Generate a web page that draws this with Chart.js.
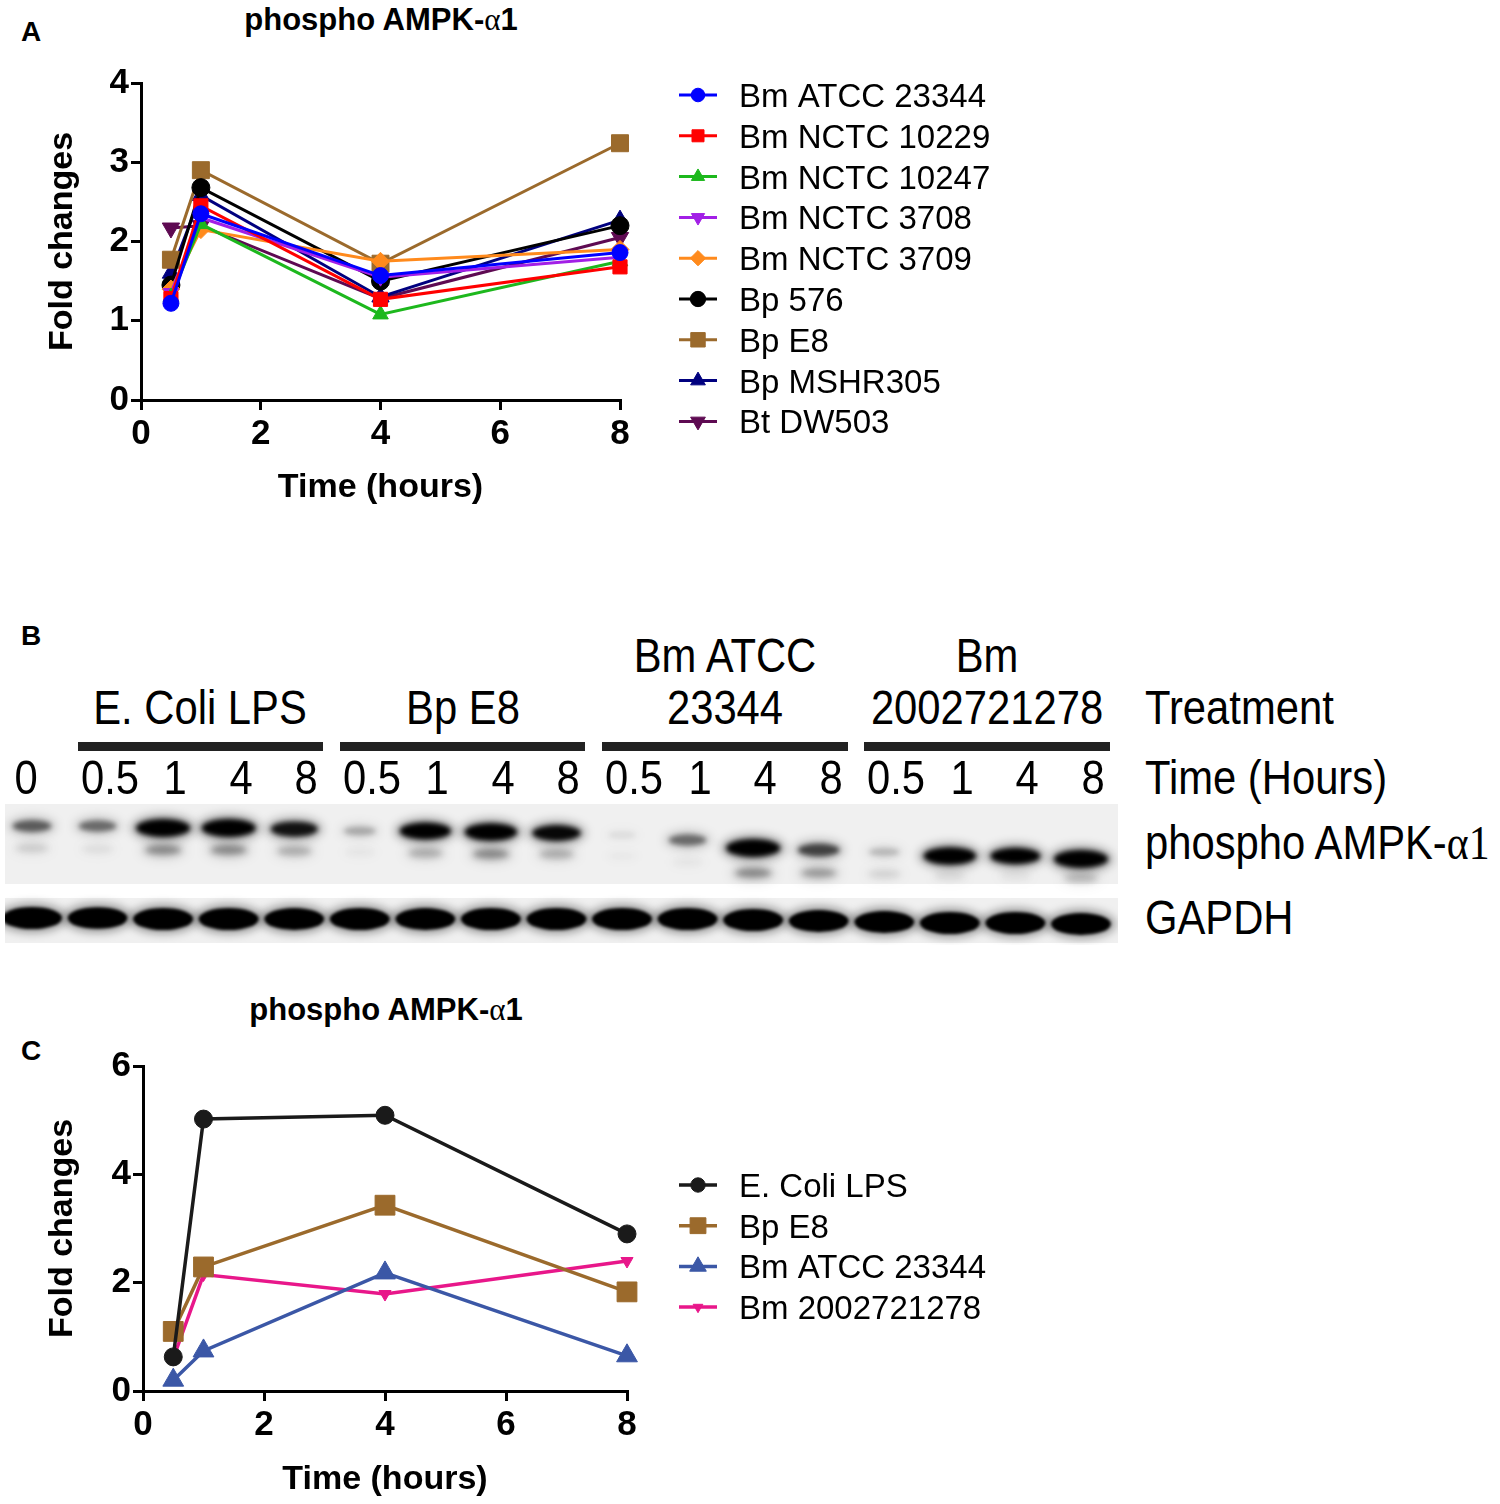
<!DOCTYPE html>
<html>
<head>
<meta charset="utf-8">
<script src="https://cdn.jsdelivr.net/npm/chart.js@4.4.1/dist/chart.umd.min.js"></script>
<style>
body { margin: 0; background: #fff; font-family: "Liberation Sans", Arial, sans-serif; }
#page { position: relative; width: 1500px; height: 1504px; overflow: hidden; background: #fff; }
canvas { position: absolute; }
.txt { position: absolute; white-space: nowrap; line-height: 1; color: #000; }
.panel { font-size: 28px; font-weight: bold; left: 21px; }
.title { font-size: 31px; font-weight: bold; transform: translateX(-50%); }
.serif { font-family: "Liberation Serif", "DejaVu Serif", serif; font-weight: normal; }
.gel { font-size: 48px; }
.gel.c { transform: translateX(-50%) scaleX(0.87); }
.gel.l { transform-origin: left top; transform: scaleX(0.87); }
.bar { position: absolute; background: #222; height: 9px; top: 742px; }
</style>
</head>
<body>
<div id="page">
  <div class="txt panel" style="top:18px">A</div>
  <div class="txt panel" style="top:622px">B</div>
  <div class="txt panel" style="top:1037px">C</div>
  <div class="txt title" style="left:381px; top:4px">phospho AMPK-<span class="serif">α</span>1</div>
  <div class="txt title" style="left:386px; top:994px">phospho AMPK-<span class="serif">α</span>1</div>

  <canvas id="chartA" width="1000" height="460" style="left:0; top:60px"></canvas>
  <canvas id="blot" width="1120" height="145" style="left:0; top:800px"></canvas>
  <canvas id="chartC" width="1000" height="464" style="left:0; top:1040px"></canvas>

  <div class="txt gel l" style="left:1145px; top:684px">Treatment</div>
  <div class="txt gel l" style="left:1145px; top:754px">Time (Hours)</div>
  <div class="txt gel l" style="left:1145px; top:819px">phospho AMPK-<span class="serif">α1</span></div>
  <div class="txt gel l" style="left:1145px; top:894px">GAPDH</div>
</div>

<script>
// ---- panel A: time course, nine strains ----
var timesA = [0.5, 1, 4, 8];
var bmAtcc23344 = [1.22, 2.35, 1.57, 1.86];
var bmNctc10229 = [1.28, 2.45, 1.27, 1.68];
var bmNctc10247 = [1.30, 2.22, 1.08, 1.75];
var bmNctc3708  = [1.35, 2.30, 1.55, 1.80];
var bmNctc3709  = [1.40, 2.15, 1.75, 1.90];
var bp576       = [1.45, 2.68, 1.50, 2.20];
var bpE8        = [1.77, 2.90, 1.72, 3.24];
var bpMshr305   = [1.60, 2.58, 1.30, 2.27];
var btDw503     = [2.17, 2.20, 1.28, 2.05];

// ---- panel C: quantified blot ----
var timesC = [0.5, 1, 4, 8];
var ecoliLps     = [0.63, 5.02, 5.09, 2.90];
var bpE8C        = [1.10, 2.29, 3.43, 1.83];
var bmAtccC      = [0.20, 0.74, 2.18, 0.65];
var bm2002721278 = [0.60, 2.15, 1.79, 2.40];

// ---- panel B: western blot lanes ----
var laneTimes = ['0', '0.5', '1', '4', '8', '0.5', '1', '4', '8', '0.5', '1', '4', '8', '0.5', '1', '4', '8'];
var groupNames = [['E. Coli LPS'], ['Bp E8'], ['Bm ATCC', '23344'], ['Bm', '2002721278']];
var groupFirstLane = [1, 5, 9, 13];
var groupLastLane = [4, 8, 12, 16];
// band strength 0..1 and migration (px down the strip)
var upperLevel = [0.45, 0.4, 1.0, 1.0, 0.75, 0.2, 0.9, 0.95, 0.8, 0.05, 0.4, 1.0, 0.55, 0.15, 0.95, 0.85, 1.0];
var upperMig   = [26, 26, 28, 28, 29, 31, 31, 32, 33, 35, 40, 48, 50, 52, 56, 56, 59];
var lowerLevel = [0.1, 0.05, 0.3, 0.3, 0.2, 0.03, 0.2, 0.3, 0.2, 0.02, 0.03, 0.3, 0.25, 0.08, 0.06, 0.04, 0.15];
var lowerMig   = [48, 49, 50, 50, 51, 52, 53, 54, 54, 56, 62, 73, 73, 74, 76, 76, 78];
var gapdhLevel = [1, 0.9, 1, 1, 0.95, 1, 0.95, 1, 1, 1, 1, 1, 0.95, 0.95, 1, 1, 0.95];
var gapdhMig   = [118, 118, 119, 119, 119, 119, 119, 119, 119, 119, 119, 120, 121, 122, 123, 123, 124];

Chart.defaults.font.family = '"Liberation Sans", Arial, sans-serif';
Chart.defaults.color = '#000';

function series(label, xs, ys, color, style, radius, rotation, width) {
    return {
        label: label,
        data: xs.map(function (t, i) { return { x: t, y: ys[i] }; }),
        borderColor: color,
        backgroundColor: color,
        pointBackgroundColor: color,
        pointBorderColor: color,
        pointBorderWidth: 1,
        pointStyle: style,
        pointRadius: radius,
        pointHoverRadius: radius,
        pointRotation: rotation || 0,
        borderWidth: width,
        tension: 0,
        clip: false
    };
}

// legend with a short line and the marker, like the original figure
var lineLegend = {
    id: 'lineLegend',
    afterDraw: function (chart, args, opts) {
        var ctx = chart.ctx;
        var area = chart.chartArea;
        ctx.save();
        chart.data.datasets.forEach(function (ds, i) {
            var y = area.top + opts.top + i * opts.rowHeight;
            var x0 = area.right + opts.offset;
            ctx.strokeStyle = ds.borderColor;
            ctx.lineWidth = ds.borderWidth;
            ctx.beginPath();
            ctx.moveTo(x0, y);
            ctx.lineTo(x0 + 38, y);
            ctx.stroke();
            ctx.fillStyle = ds.pointBackgroundColor;
            ctx.lineWidth = 1;
            Chart.helpers.drawPoint(ctx, {
                pointStyle: ds.pointStyle,
                radius: opts.markerScale * ds.pointRadius,
                rotation: ds.pointRotation,
                borderWidth: 1
            }, x0 + 19, y);
            ctx.fillStyle = '#000';
            ctx.font = '33px "Liberation Sans", Arial, sans-serif';
            ctx.textBaseline = 'alphabetic';
            ctx.fillText(ds.label, x0 + 60, y + 12);
        });
        ctx.restore();
    }
};

function axes(yMax, yStep, yWidth, xHeight, xTitlePad) {
    var line = { color: '#000', width: 3 };
    var grid = { drawOnChartArea: false, drawTicks: true, tickLength: 10, color: '#000', lineWidth: 3 };
    return {
        x: {
            type: 'linear', min: 0, max: 8,
            border: line, grid: grid,
            ticks: { stepSize: 2, autoSkip: false, maxRotation: 0, padding: 3, font: { size: 35, weight: 'bold' } },
            title: { display: true, text: 'Time (hours)', font: { size: 34, weight: 'bold' }, padding: { top: 0, bottom: xTitlePad } },
            afterFit: function (s) { s.height = xHeight; }
        },
        y: {
            min: 0, max: yMax,
            border: line, grid: grid,
            ticks: { stepSize: yStep, autoSkip: false, padding: 2, font: { size: 35, weight: 'bold' } },
            title: { display: true, text: 'Fold changes', font: { size: 34, weight: 'bold' }, padding: { top: 42, bottom: 0 } },
            afterFit: function (s) { s.width = yWidth; }
        }
    };
}

new Chart(document.getElementById('chartA'), {
    type: 'line',
    data: {
        datasets: [
            series('Bm ATCC 23344', timesA, bmAtcc23344, '#0000ff', 'circle', 8, 0, 3),
            series('Bm NCTC 10229', timesA, bmNctc10229, '#ff0000', 'rect', 10, 0, 3),
            series('Bm NCTC 10247', timesA, bmNctc10247, '#1db81d', 'triangle', 9, 0, 3),
            series('Bm NCTC 3708', timesA, bmNctc3708, '#a21fe6', 'triangle', 9, 180, 3),
            series('Bm NCTC 3709', timesA, bmNctc3709, '#ff8a1c', 'rectRot', 9, 0, 3),
            series('Bp 576', timesA, bp576, '#000000', 'circle', 9, 0, 3),
            series('Bp E8', timesA, bpE8, '#9b6a2c', 'rect', 12, 0, 3),
            series('Bp MSHR305', timesA, bpMshr305, '#00007f', 'triangle', 10, 0, 3),
            series('Bt DW503', timesA, btDw503, '#5e0a52', 'triangle', 10, 180, 3)
        ]
    },
    options: {
        responsive: false,
        animation: false,
        layout: { padding: { top: 18, right: 380, left: 0, bottom: 0 } },
        scales: axes(4, 1, 141, 120, 12),
        plugins: {
            legend: { display: false },
            tooltip: { enabled: false },
            lineLegend: { top: 12, rowHeight: 40.8, offset: 59, markerScale: 0.85 }
        }
    },
    plugins: [lineLegend]
});

new Chart(document.getElementById('chartC'), {
    type: 'line',
    data: {
        datasets: [
            series('E. Coli LPS', timesC, ecoliLps, '#1a1a1a', 'circle', 9, 0, 3.5),
            series('Bp E8', timesC, bpE8C, '#9b6a2c', 'rect', 14, 0, 3.5),
            series('Bm ATCC 23344', timesC, bmAtccC, '#3b57a6', 'triangle', 12, 0, 3.5),
            series('Bm 2002721278', timesC, bm2002721278, '#e8178a', 'triangle', 7, 180, 3.5)
        ]
    },
    options: {
        responsive: false,
        animation: false,
        layout: { padding: { top: 26, right: 373, left: 0, bottom: 0 } },
        scales: axes(6, 2, 143, 113, 4),
        plugins: {
            legend: { display: false },
            tooltip: { enabled: false },
            lineLegend: { top: 119, rowHeight: 40.7, offset: 52, markerScale: 0.8 }
        }
    },
    plugins: [lineLegend]
});

// ---- blot drawn on the lane scale ----
function laneData(mig, level) {
    return mig.map(function (m, i) { return { x: i, y: m, v: level[i] }; });
}

var gelBands = {
    id: 'gelBands',
    beforeDatasetsDraw: function (chart) {
        var ctx = chart.ctx;
        var xs = chart.scales.x, ys = chart.scales.y;
        var left = 5, right = 1118;
        ctx.save();
        ctx.fillStyle = '#f0f0f0';
        ctx.fillRect(left, ys.getPixelForValue(4), right - left, ys.getPixelForValue(84) - ys.getPixelForValue(4));
        ctx.fillRect(left, ys.getPixelForValue(98), right - left, ys.getPixelForValue(143) - ys.getPixelForValue(98));
        ctx.beginPath();
        ctx.rect(left, 0, right - left, chart.height);
        ctx.clip();
        chart.data.datasets.forEach(function (ds) {
            ds.data.forEach(function (p) {
                var cx = xs.getPixelForValue(p.x);
                var cy = ys.getPixelForValue(p.y);
                var v = p.v;
                var w, h, blur;
                if (ds.kind === 'gapdh') {
                    w = 56 + 4 * v; h = 19 + 3 * v; blur = 1.5;
                } else if (ds.kind === 'upper') {
                    w = 26 + 28 * v; h = 7 + 11 * v; blur = 2.5;
                } else {
                    w = 30 + 20 * v; h = 8 + 6 * v; blur = 3;
                }
                ctx.filter = 'blur(' + (blur + 2.5) + 'px)';
                ctx.fillStyle = 'rgba(0,0,0,' + Math.min(0.35, v * 0.4) + ')';
                ctx.beginPath();
                ctx.ellipse(cx, cy, w / 2 + 5, h / 2 + 4, 0, 0, Math.PI * 2);
                ctx.fill();
                ctx.filter = 'blur(' + blur + 'px)';
                ctx.fillStyle = 'rgba(0,0,0,' + Math.min(1, v * 1.2) + ')';
                ctx.beginPath();
                ctx.ellipse(cx, cy, w / 2, h / 2, 0, 0, Math.PI * 2);
                ctx.fill();
            });
        });
        ctx.restore();
    }
};

var laneStep = 65.56;
var blot = new Chart(document.getElementById('blot'), {
    type: 'scatter',
    data: {
        datasets: [
            { label: 'phospho upper', kind: 'upper', data: laneData(upperMig, upperLevel), pointRadius: 0 },
            { label: 'phospho lower', kind: 'lower', data: laneData(lowerMig, lowerLevel), pointRadius: 0 },
            { label: 'GAPDH', kind: 'gapdh', data: laneData(gapdhMig, gapdhLevel), pointRadius: 0 }
        ]
    },
    options: {
        responsive: false,
        animation: false,
        layout: { padding: 0 },
        scales: {
            x: { type: 'linear', display: false, min: -32 / laneStep, max: (1120 - 32) / laneStep },
            y: { type: 'linear', display: false, min: 0, max: 145, reverse: true }
        },
        plugins: { legend: { display: false }, tooltip: { enabled: false } }
    },
    plugins: [gelBands]
});

// lane labels and treatment bars placed from the blot's lane scale
var page = document.getElementById('page');
function labelX(i) {
    var bx = blot.scales.x.getPixelForValue(i);
    return i === 0 ? bx - 6 : bx + 12;
}
laneTimes.forEach(function (t, i) {
    var d = document.createElement('div');
    d.className = 'txt gel c';
    d.style.left = labelX(i) + 'px';
    d.style.top = '754px';
    d.textContent = t;
    page.appendChild(d);
});
groupNames.forEach(function (lines, g) {
    var x1 = labelX(groupFirstLane[g]) - 32;
    var x2 = labelX(groupLastLane[g]) + 17;
    var bar = document.createElement('div');
    bar.className = 'bar';
    bar.style.left = x1 + 'px';
    bar.style.width = (x2 - x1) + 'px';
    page.appendChild(bar);
    lines.forEach(function (s, k) {
        var d = document.createElement('div');
        d.className = 'txt gel c';
        d.style.left = ((x1 + x2) / 2) + 'px';
        d.style.top = (lines.length === 1 ? 684 : 632 + k * 52) + 'px';
        d.textContent = s;
        page.appendChild(d);
    });
});
</script>
</body>
</html>
